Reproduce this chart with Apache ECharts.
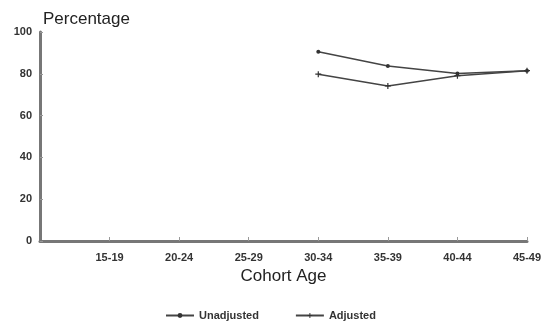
<!DOCTYPE html>
<html><head><meta charset="utf-8">
<script src="https://cdn.jsdelivr.net/npm/echarts@6/dist/echarts.min.js"></script>
<style>html,body{margin:0;padding:0;background:#fff}#c{width:553px;height:329px}</style>
</head><body><div id="c"></div>
<script>
var categories = ["", "15-19", "20-24", "25-29", "30-34", "35-39", "40-44", "45-49"];
var unadjusted = [null, null, null, null, 90.6, 83.7, 80.2, 81.5];
var adjusted = [null, null, null, null, 79.8, 74.2, 79.1, 81.5];
var yTicks = [0, 20, 40, 60, 80, 100];

var plusPath = 'path://M4,0 L6,0 L6,4 L10,4 L10,6 L6,6 L6,10 L4,10 L4,6 L0,6 L0,4 L4,4 Z';
var chart = echarts.init(document.getElementById('c'));
var font = 'Liberation Sans, Arial, sans-serif';
chart.setOption({
  animation: false,
  backgroundColor: '#fff',
  grid: {left: 40, right: 26, top: 32, bottom: 88, containLabel: false},
  title: {text: 'Percentage', left: 38, top: 6, textStyle: {fontFamily: font, fontSize: 17, fontWeight: 'normal', color: '#222'}},
  legend: {
    bottom: 3, left: 160, itemWidth: 28, itemHeight: 6, itemGap: 36,
    textStyle: {fontFamily: font, fontSize: 11, fontWeight: 'bold', color: '#333'},
    data: ['Unadjusted', 'Adjusted']
  },
  xAxis: {
    type: 'category', data: categories, boundaryGap: false,
    name: 'Cohort Age', nameLocation: 'middle', nameGap: 26,
    nameTextStyle: {fontFamily: font, fontSize: 17, color: '#222'},
    axisLine: {lineStyle: {color: '#777', width: 3}},
    axisTick: {inside: true, length: 4, lineStyle: {color: '#999'}, interval: function (i) { return i > 0; }},
    axisLabel: {fontFamily: font, fontSize: 11, fontWeight: 'bold', color: '#333', margin: 11, interval: 0},
    splitLine: {show: false}
  },
  yAxis: {
    type: 'value', min: yTicks[0], max: yTicks[yTicks.length - 1], interval: 20,
    axisLine: {show: true, lineStyle: {color: '#777', width: 3}},
    axisTick: {show: true, inside: true, length: 3, lineStyle: {color: '#999'}},
    axisLabel: {fontFamily: font, fontSize: 11, fontWeight: 'bold', color: '#333', margin: 8},
    splitLine: {show: false}
  },
  series: [
    {name: 'Unadjusted', type: 'line', data: unadjusted, symbol: 'circle', symbolSize: 4,
     lineStyle: {color: '#444', width: 1.5}, itemStyle: {color: '#333'}},
    {name: 'Adjusted', type: 'line', data: adjusted, symbol: plusPath, symbolSize: 6,
     lineStyle: {color: '#444', width: 1.5}, itemStyle: {color: '#333'}}
  ]
});
</script></body></html>
